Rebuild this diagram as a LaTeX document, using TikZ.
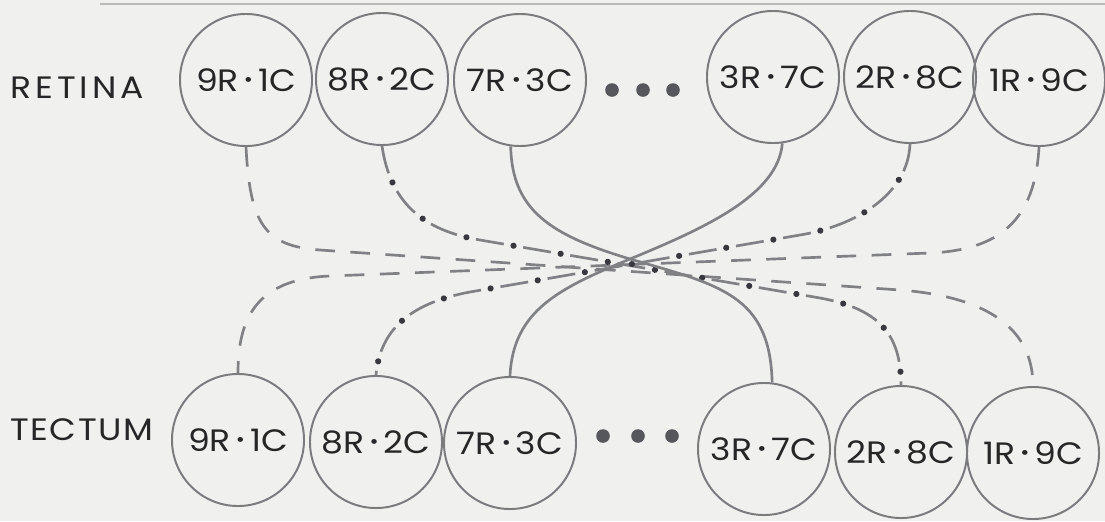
\documentclass[tikz,border=0pt]{standalone}
\usepackage{fontspec}
\setmainfont{Poppins}
\newfontfamily\widepoppins[FakeStretch=1.12]{Poppins}
\usepackage{xcolor}
\usepackage{tikz}
\usetikzlibrary{calc}
\definecolor{paper}{HTML}{F0F0EE}
\definecolor{rimgray}{HTML}{7A7B7F}
\definecolor{wiregray}{HTML}{808185}
\definecolor{dotgray}{HTML}{383840}
\definecolor{inkgray}{HTML}{262628}
\newcommand{\cellfont}{\widepoppins\fontsize{22}{26}\selectfont}
\newcommand{\rdot}{\hspace{0.16em}\raisebox{3.4pt}{\fontsize{14}{14}\selectfont •}\hspace{0.16em}}

\begin{document}
\begin{tikzpicture}[x=0.025cm, y=-0.025cm,
    cell/.style={circle, draw=rimgray, line width=1.4pt, minimum size=3.3cm, inner sep=0pt, text=inkgray, font=\cellfont},
    rowname/.style={anchor=west, inner sep=0pt, text=inkgray, font=\cellfont\addfontfeature{LetterSpace=5}},
    skipdot/.style={circle, fill=dotgray!85, inner sep=0pt, minimum size=0.34cm},
    wire/.style={draw=wiregray, line width=1.9pt},
    dashwire/.style={wire, dash pattern=on 14pt off 11pt},
    dotwire/.style={wire, dash pattern=on 20pt off 14pt,
        postaction={draw=dotgray, line width=4.4pt, line cap=round, dash pattern=on 0.01pt off 34pt, dash phase=7pt}}]
    % Paper
    \fill[paper] (0,0) rectangle (1105,521);
    \useasboundingbox (0,0) rectangle (1105,521);
    \draw[line width=2pt, gray!55] (100,4) -- (1105,4);

    % Retina row
    \node[rowname, font=\cellfont\addfontfeature{LetterSpace=13}] (retina) at (10,88) {RETINA};
    \node[cell] (r91) at (246,80) {9R\rdot 1C};
    \node[cell] (r82) at (382,79) {8R\rdot 2C};
    \node[cell] (r73) at (520,80) {7R\rdot 3C};
    \node[skipdot] (rgap1) at (612,90) {};
    \node[skipdot] (rgap2) at (643,90) {};
    \node[skipdot] (rgap3) at (673,90) {};
    \node[cell] (r37) at (773,77) {3R\rdot 7C};
    \node[cell] (r28) at (910,77) {2R\rdot 8C};
    \node[cell] (r19) at (1039,80) {1R\rdot 9C};

    % Tectum row
    \node[rowname] (tectum) at (10,430) {TECTUM};
    \node[cell] (t91) at (238,440) {9R\rdot 1C};
    \node[cell] (t82) at (376,442) {8R\rdot 2C};
    \node[cell] (t73) at (510,443) {7R\rdot 3C};
    \node[skipdot] (tgap1) at (603,436) {};
    \node[skipdot] (tgap2) at (638,436) {};
    \node[skipdot] (tgap3) at (672,436) {};
    \node[cell] (t37) at (764,449) {3R\rdot 7C};
    \node[cell] (t28) at (901,452) {2R\rdot 8C};
    \node[cell] (t19) at (1033,453) {1R\rdot 9C};

    % Outer pair - long dashes
    \draw[dashwire] (r91.south) .. controls (250,225) and (265,246) .. (320,250) -- (900,290)
        .. controls (990,297) and (1033,330) .. (t19.north);
    \draw[dashwire] (r19.south) .. controls (1035,220) and (1000,250) .. (930,253) -- (330,276)
        .. controls (255,279) and (238,320) .. (t91.north);

    % Second pair - dash and dot
    \draw[dotwire] (r82.south) .. controls (390,200) and (420,230) .. (480,240) -- (820,298)
        .. controls (880,309) and (901,335) .. (t28.north);
    \draw[dotwire] (r28.south) .. controls (908,195) and (855,226) .. (800,235) -- (470,292)
        .. controls (410,303) and (380,330) .. (t82.north);

    % Inner pair - solid
    \draw[wire] (r73.262) .. controls (512,210) and (550,235) .. (630,259)
        .. controls (720,285) and (770,295) .. (t37.83);
    \draw[wire] (r37.278) .. controls (778,195) and (705,228) .. (630,259)
        .. controls (560,288) and (513,310) .. (t73.north);
\end{tikzpicture}
\end{document}
